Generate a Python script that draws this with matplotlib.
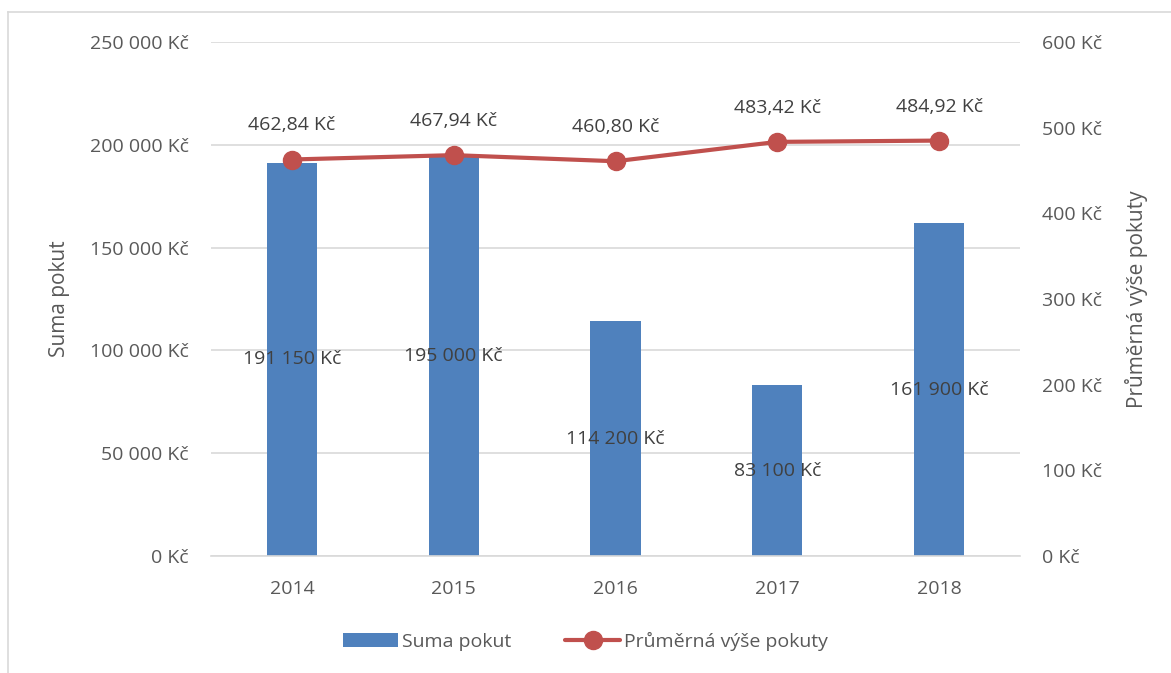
import matplotlib
matplotlib.use('Agg')
import matplotlib.pyplot as plt
from matplotlib.lines import Line2D
from matplotlib.ticker import FuncFormatter

plt.rcParams['font.family'] = ['Open Sans', 'DejaVu Sans']

years = ['2014', '2015', '2016', '2017', '2018']
suma_pokut = [191150, 195000, 114200, 83100, 161900]
prumer = [462.84, 467.94, 460.80, 483.42, 484.92]

BAR_C = '#4F81BD'
LINE_C = '#C0504D'
TXT = '#595959'
LBL = '#404040'
GRID = '#D9D9D9'
FS = 14


def fmt_int(v):
    return f'{int(round(v)):,} Kč'.replace(',', ' ')


def fmt_dec(v):
    return f'{v:.2f} Kč'.replace('.', ',')


W, H = 1171, 673
fig = plt.figure(figsize=(W / 100, H / 100), dpi=100)

# chart area border (left + top only visible)
fig.add_artist(Line2D([8 / W, 8 / W], [0, 1 - 12 / H], color=GRID, lw=1.2))
fig.add_artist(Line2D([8 / W, 1], [1 - 12 / H, 1 - 12 / H], color=GRID, lw=1.2))

ax = fig.add_axes([211 / W, (H - 556) / H, 809 / W, 514 / H])
x = list(range(len(years)))

bars = ax.bar(x, suma_pokut, width=0.31, color=BAR_C, zorder=2, label='Suma pokut')
ax.set_ylim(0, 250000)
ax.set_xlim(-0.5, len(years) - 0.5)
ax.set_yticks(range(0, 250001, 50000))
ax.yaxis.set_major_formatter(FuncFormatter(lambda v, p: fmt_int(v)))
ax.set_xticks(x)
ax.set_xticklabels(years)
ax.grid(axis='y', color=GRID, lw=1.2, zorder=0)
ax.set_axisbelow(True)
for s in ['top', 'right', 'left']:
    ax.spines[s].set_visible(False)
ax.spines['bottom'].set_color(GRID)
ax.spines['bottom'].set_linewidth(1.2)
ax.tick_params(length=0, colors=TXT, labelsize=FS)
ax.tick_params(axis='y', pad=16)
ax.tick_params(axis='x', pad=17)
ax.set_ylabel('Suma pokut', color=TXT, fontsize=15, labelpad=14)

for xi, v in zip(x, suma_pokut):
    ax.text(xi, v / 2, fmt_int(v), ha='center', va='center', color=LBL, fontsize=FS, zorder=5)

ax2 = ax.twinx()
ax2.set_ylim(0, 600)
ax2.set_yticks(range(0, 601, 100))
ax2.yaxis.set_major_formatter(FuncFormatter(lambda v, p: f'{int(v)} Kč'))
for s in ax2.spines.values():
    s.set_visible(False)
ax2.tick_params(length=0, colors=TXT, labelsize=FS, pad=16)
line, = ax2.plot(x, prumer, color=LINE_C, lw=3, marker='o', markersize=13,
                 solid_capstyle='round', zorder=4, label='Průměrná výše pokuty')
ax2.set_ylabel('Průměrná výše pokuty', color=TXT, fontsize=15, labelpad=16)

for xi, v in zip(x, prumer):
    ax2.annotate(fmt_dec(v), (xi, v), xytext=(0, 24.5), textcoords='offset points',
                 ha='center', va='center', color=LBL, fontsize=FS)

fig.legend(handles=[bars, line], loc='center', bbox_to_anchor=(0.5, 1 - 641 / H),
           ncol=2, frameon=False, fontsize=FS, labelcolor=TXT,
           handlelength=2.8, handletextpad=0.2, columnspacing=2.8)

fig.savefig('out.png', dpi=100)
